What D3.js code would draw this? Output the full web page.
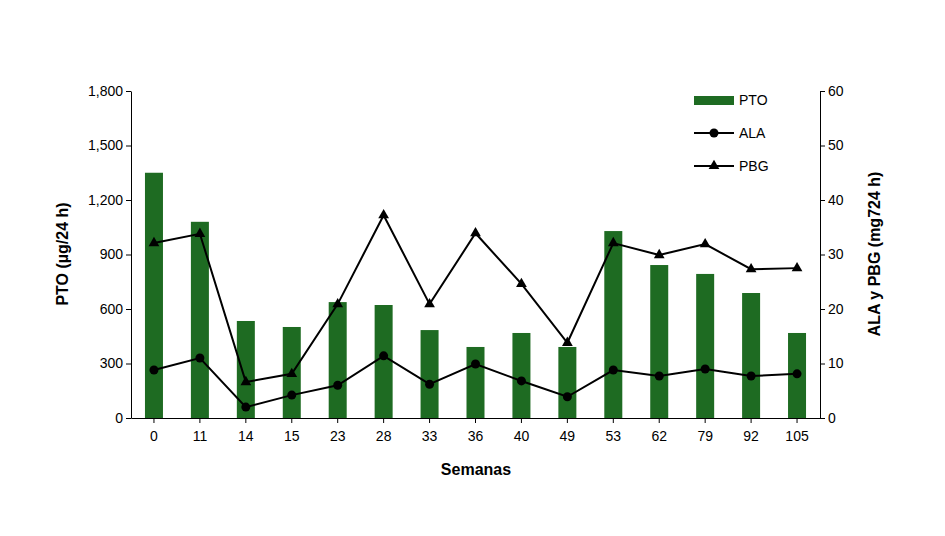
<!DOCTYPE html>
<html><head><meta charset="utf-8">
<script src="https://cdn.jsdelivr.net/npm/d3@7"></script>
<style>body{margin:0;background:#fff}text{font-family:Arial,"Liberation Sans",sans-serif}</style>
</head><body><svg id="c" width="945" height="536"></svg>
<script>
const categories=["0","11","14","15","23","28","33","36","40","49","53","62","79","92","105"];
const pto=[1350,1080,534,501,638,622,484,391,468,391,1029,842,793,688,468];
const ala=[8.8,11,2,4.2,6,11.4,6.2,9.9,6.8,3.9,8.8,7.7,9,7.7,8.1];
const pbg=[32.1,33.8,6.6,8.1,20.9,37.2,20.9,33.9,24.6,13.8,32.1,29.9,31.9,27.3,27.5];
const leftTicks=[0,300,600,900,1200,1500,1800];
const rightTicks=[0,10,20,30,40,50,60];
const svg=d3.select("#c");
const L=131,R=820,T=91,B=418;
const x=d3.scaleBand().domain(categories).range([L,R]);
const yl=d3.scaleLinear().domain([0,1800]).range([B,T]);
const yr=d3.scaleLinear().domain([0,60]).range([B,T]);
const green="#1e6b22";
svg.selectAll("rect.bar").data(pto).enter().append("rect")
 .attr("x",(d,i)=>x(categories[i])+x.bandwidth()/2-9).attr("width",18)
 .attr("y",d=>yl(d)).attr("height",d=>B-yl(d)).attr("fill",green);
const ax=svg.append("g").attr("transform",`translate(0,${B})`).call(d3.axisBottom(x).tickSize(5).tickSizeOuter(0));
const al=svg.append("g").attr("transform",`translate(${L},0)`).call(d3.axisLeft(yl).tickValues(leftTicks).tickSize(5).tickSizeOuter(0));
const ar=svg.append("g").attr("transform",`translate(${R},0)`).call(d3.axisRight(yr).tickValues(rightTicks).tickSize(5).tickSizeOuter(0));
[ax,al,ar].forEach(g=>{g.selectAll("text").attr("font-size",14).attr("fill","#000");g.selectAll("line,path").attr("stroke","#000");});
ax.selectAll("text").attr("dy","1.1em");
const line=d3.line().x((d,i)=>x(categories[i])+x.bandwidth()/2).y(d=>yr(d));
svg.append("path").datum(ala).attr("d",line).attr("fill","none").attr("stroke","#000").attr("stroke-width",2);
svg.append("path").datum(pbg).attr("d",line).attr("fill","none").attr("stroke","#000").attr("stroke-width",2);
svg.selectAll("circle.a").data(ala).enter().append("circle").attr("cx",(d,i)=>x(categories[i])+x.bandwidth()/2).attr("cy",d=>yr(d)).attr("r",4.5);
const tri=d3.symbol().type(d3.symbolTriangle).size(50);
svg.selectAll("path.t").data(pbg).enter().append("path").attr("d",tri).attr("transform",(d,i)=>`translate(${x(categories[i])+x.bandwidth()/2},${yr(d)})`);
svg.append("text").attr("x",476).attr("y",475).attr("text-anchor","middle").attr("font-size",16).attr("font-weight","bold").text("Semanas");
svg.append("text").attr("transform","translate(68,254) rotate(-90)").attr("text-anchor","middle").attr("font-size",16).attr("font-weight","bold").text("PTO (µg/24  h)");
svg.append("text").attr("transform","translate(880,254) rotate(-90)").attr("text-anchor","middle").attr("font-size",16).attr("font-weight","bold").text("ALA y PBG (mg724 h)");
const lg=svg.append("g");
lg.append("rect").attr("x",694).attr("y",96).attr("width",40).attr("height",9).attr("fill",green);
lg.append("text").attr("x",739).attr("y",105).attr("font-size",14).text("PTO");
lg.append("line").attr("x1",694).attr("x2",734).attr("y1",133).attr("y2",133).attr("stroke","#000").attr("stroke-width",2);
lg.append("circle").attr("cx",714).attr("cy",133).attr("r",4.5);
lg.append("text").attr("x",739).attr("y",138).attr("font-size",14).text("ALA");
lg.append("line").attr("x1",694).attr("x2",734).attr("y1",166).attr("y2",166).attr("stroke","#000").attr("stroke-width",2);
lg.append("path").attr("d",tri).attr("transform","translate(714,166)");
lg.append("text").attr("x",739).attr("y",171).attr("font-size",14).text("PBG");
</script></body></html>
